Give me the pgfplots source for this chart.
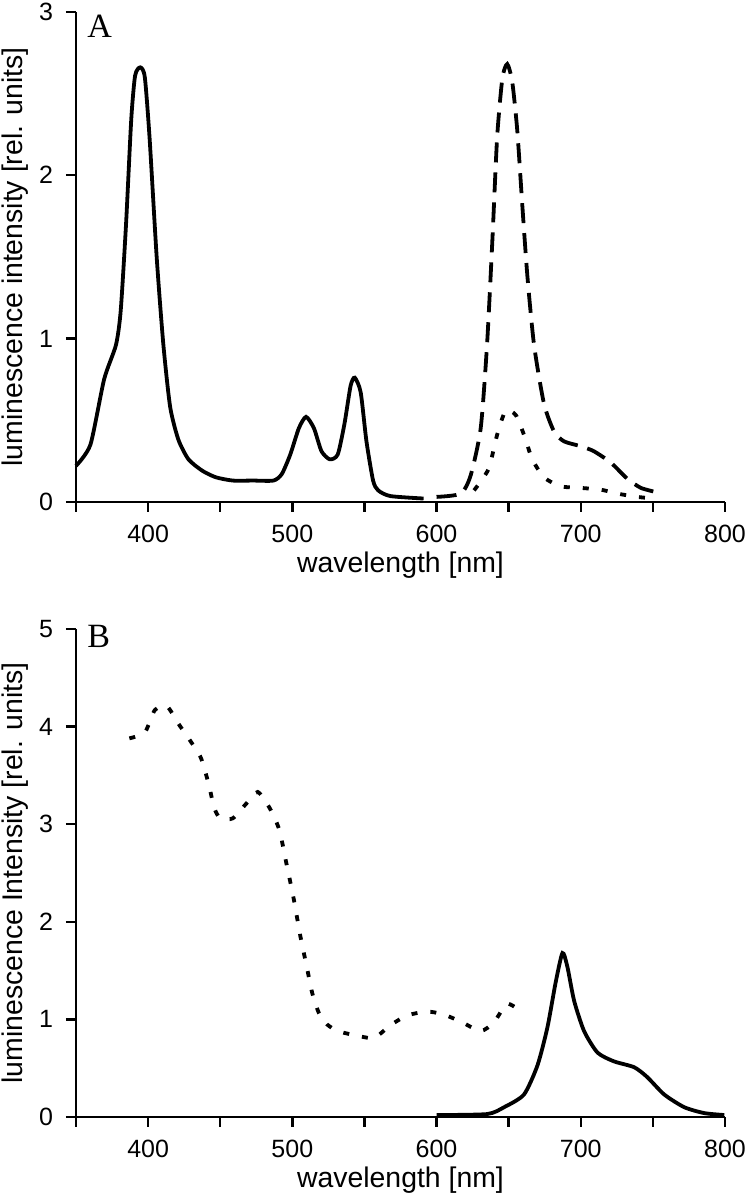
\documentclass[border=0pt]{standalone}
\usepackage{pgfplots}
\pgfplotsset{compat=1.18}
\usepackage{fontspec}
\setmainfont{Liberation Sans}
\newfontfamily\seriffont{Liberation Serif}
\begin{document}
\begin{tikzpicture}
\pgfplotsset{
 myax/.style={
  scale only axis, width=324.5pt,
  xmin=350, xmax=800,
  axis x line*=bottom, axis y line*=left,
  axis line style={line width=1.2pt, -},
  every tick/.style={line width=1.2pt, black},
  major tick length=5pt, tick align=outside,
  xtick={350,400,...,800}, xticklabels={,400,,500,,600,,700,,800},
  tick label style={font=\fontsize{12.5}{14}\selectfont},
  xticklabel style={yshift=-3pt},
  yticklabel style={xshift=-3pt},
  label style={font=\fontsize{14.2}{16}\selectfont},
  /pgf/number format/assume math mode=true,
  xlabel={wavelength [nm]},
  xlabel style={at={(axis description cs:0.5,0)}, anchor=center, yshift=-31.5pt},
  ylabel style={at={(axis description cs:-0.094,0.5)}, anchor=center},
  clip=false,
 },
 solidc/.style={black, line width=1.9pt, smooth, tension=0.4},
 dashc/.style={black, line width=1.9pt, smooth, tension=0.4, dash pattern=on 10pt off 5pt},
 dotc/.style={black, line width=1.9pt, smooth, tension=0.4, dash pattern=on 3pt off 6.5pt},
}
% ---------------- Panel A ----------------
\begin{axis}[myax, at={(38pt,348.6pt)}, anchor=south west, height=245pt,
  ymin=0, ymax=3, ytick={0,1,2,3},
  ylabel={luminescence intensity [rel. units]}]
\addplot[solidc] coordinates {
(350,0.22) (360,0.35) (369.5,0.75) (377.7,0.96) (381,1.17) (384.7,1.70)
(388.3,2.34) (391,2.61) (394.6,2.66) (397.7,2.60) (401,2.23) (406,1.49)
(410.6,0.96) (415.3,0.58) (421,0.38) (428,0.26) (437.6,0.19) (447,0.15)
(458.7,0.13) (472.8,0.13) (486.9,0.13) (492.7,0.17) (498.6,0.29) (504.5,0.45)
(509.5,0.52) (515,0.45) (520.2,0.31) (526,0.26) (531.5,0.29) (536.2,0.48)
(540.4,0.71) (543.3,0.76) (547.4,0.67) (551.4,0.37) (556,0.13) (559.5,0.07)
(568,0.035) (591,0.02)};
\addplot[dashc] coordinates {
(600,0.03) (616.7,0.05) (623.6,0.16) (630.6,0.45) (635,0.96) (638.7,1.60)
(642,2.23) (645.6,2.59) (649,2.68) (652.5,2.57) (656,2.27) (659.5,1.81)
(663,1.38) (667.6,0.96) (674.5,0.60) (681.5,0.43) (688.4,0.37) (700,0.34)
(709,0.31) (720.8,0.24) (732.4,0.14) (741.7,0.085) (752,0.06)};
\addplot[dotc] coordinates {
(626,0.07) (636,0.20) (642,0.41) (648,0.56) (655,0.53) (660.6,0.41)
(666.4,0.26) (674.5,0.15) (686,0.095) (700,0.085) (714,0.074) (725.5,0.05)
(739,0.03) (751,0.02)};
\node[anchor=north west, inner sep=0pt, font=\seriffont\fontsize{17}{19}\selectfont]
  at (rel axis cs:0.017,0.995) {A};
\end{axis}
% ---------------- Panel B ----------------
\begin{axis}[myax, at={(38pt,41pt)}, anchor=south west, height=244pt,
  ymin=0, ymax=5, ytick={0,1,2,3,4,5},
  ylabel={luminescence Intensity [rel. units]}]
\addplot[dotc] coordinates {
(387,3.88) (397.7,3.94) (404.7,4.17) (413,4.21) (421,4.03) (429,3.86)
(436.6,3.68) (442,3.41) (445.8,3.17) (450,3.06) (458.7,3.06) (468,3.21)
(476,3.33) (484.5,3.16) (491,2.94) (496,2.59) (500.9,2.24) (505.6,1.85)
(510,1.54) (513.8,1.27) (518.3,1.07) (524,0.95) (531.5,0.88) (543,0.84)
(556.5,0.81) (568,0.94) (579.6,1.04) (593.5,1.08) (605,1.05) (617.8,0.97)
(630.5,0.88) (639.8,0.97) (649,1.16) (659.5,1.07)};
\addplot[solidc] coordinates {
(600,0.02) (635,0.03) (646.8,0.10) (660.6,0.23) (670,0.53) (676.9,0.92)
(682.6,1.38) (687.3,1.68) (690.7,1.54) (695.4,1.19) (702.3,0.88) (711.6,0.66)
(723,0.57) (737,0.51) (746,0.41) (757.9,0.23) (771.8,0.10) (785.6,0.04)
(799.5,0.02)};
\node[anchor=north west, inner sep=0pt, font=\seriffont\fontsize{17}{19}\selectfont]
  at (rel axis cs:0.017,1.008) {B};
\end{axis}
\pgfresetboundingbox
\useasboundingbox (0,0) rectangle (374pt,599.5pt);
\end{tikzpicture}
\end{document}
